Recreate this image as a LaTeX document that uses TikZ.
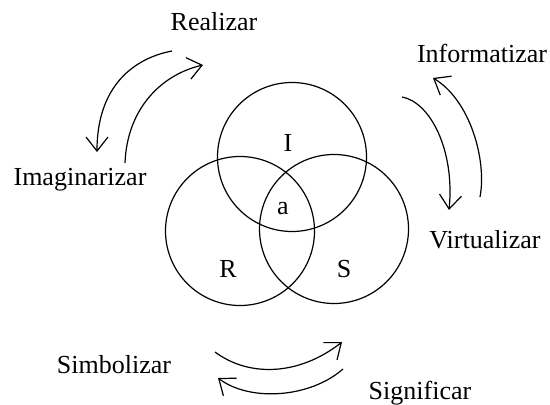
\documentclass[tikz,border=0pt]{standalone}
\usepackage{fontspec}
\setmainfont{Liberation Serif}
\usetikzlibrary{arrows.meta}
\definecolor{dialinecolor}{rgb}{0.000000, 0.000000, 0.000000}
\newlength{\du}
\setlength{\du}{0.5pt}
\tikzset{
  conjunto/.style={draw=dialinecolor, circle, minimum size=149\du, inner sep=0pt, line width=0.6pt},
  etiqueta/.style={anchor=base, inner sep=0pt, text=dialinecolor, font=\fontsize{13}{15}\selectfont},
  flecha/.style={draw=dialinecolor, line width=0.6pt, -{Straight Barb[length=7pt,width=11pt]}}
}
\begin{document}
\begin{tikzpicture}
\pgftransformxscale{1.000000}
\pgftransformyscale{-1.000000}
\useasboundingbox (0\du,0\du) rectangle (550\du,405\du);
% circles
\node[conjunto] (circI) at (292.000000\du,157.000000\du){};
\node[conjunto] (circR) at (240.000000\du,231.000000\du){};
\node[conjunto] (circS) at (334.000000\du,229.000000\du){};
% setfont left to latex
\node[etiqueta] (letraI) at (288.000000\du,152.000000\du){I};
\node[etiqueta] (letraA) at (283.000000\du,215.000000\du){a};
\node[etiqueta] (letraR) at (228.000000\du,278.000000\du){R};
\node[etiqueta] (letraS) at (344.000000\du,278.000000\du){S};
% setfont left to latex
\node[etiqueta] (realizar) at (214.000000\du,31.000000\du){Realizar};
\node[etiqueta] (imaginarizar) at (80.000000\du,186.000000\du){Imaginarizar};
\node[etiqueta] (informatizar) at (482.000000\du,63.000000\du){Informatizar};
\node[etiqueta] (virtualizar) at (485.000000\du,249.000000\du){Virtualizar};
\node[etiqueta] (simbolizar) at (114.000000\du,373.000000\du){Simbolizar};
\node[etiqueta] (significar) at (420.000000\du,399.000000\du){Significar};
% arrow ends
\coordinate (realA) at (172.000000\du,51.000000\du);
\coordinate (realB) at (97.000000\du,152.000000\du);
\coordinate (imagA) at (125.000000\du,163.000000\du);
\coordinate (imagB) at (203.000000\du,65.000000\du);
\coordinate (virtA) at (402.000000\du,97.000000\du);
\coordinate (virtB) at (449.000000\du,210.000000\du);
\coordinate (infoA) at (480.000000\du,197.000000\du);
\coordinate (infoB) at (433.000000\du,78.000000\du);
\coordinate (simbA) at (215.000000\du,352.000000\du);
\coordinate (simbB) at (342.000000\du,342.000000\du);
\coordinate (signA) at (343.000000\du,369.000000\du);
\coordinate (signB) at (218.000000\du,378.000000\du);
% arrows
\draw[flecha] (realA) .. controls (135.000000\du,58.000000\du) and (97.000000\du,85.000000\du) .. (realB);
\draw[flecha] (imagA) .. controls (127.000000\du,110.000000\du) and (160.000000\du,75.000000\du) .. (imagB);
\draw[flecha] (virtA) .. controls (430.000000\du,102.000000\du) and (455.000000\du,150.000000\du) .. (virtB);
\draw[flecha] (infoA) .. controls (487.000000\du,160.000000\du) and (470.000000\du,100.000000\du) .. (infoB);
\draw[flecha] (simbA) .. controls (250.000000\du,378.000000\du) and (300.000000\du,375.000000\du) .. (simbB);
\draw[flecha] (signA) .. controls (310.000000\du,398.000000\du) and (250.000000\du,402.000000\du) .. (signB);
\end{tikzpicture}
\end{document}
